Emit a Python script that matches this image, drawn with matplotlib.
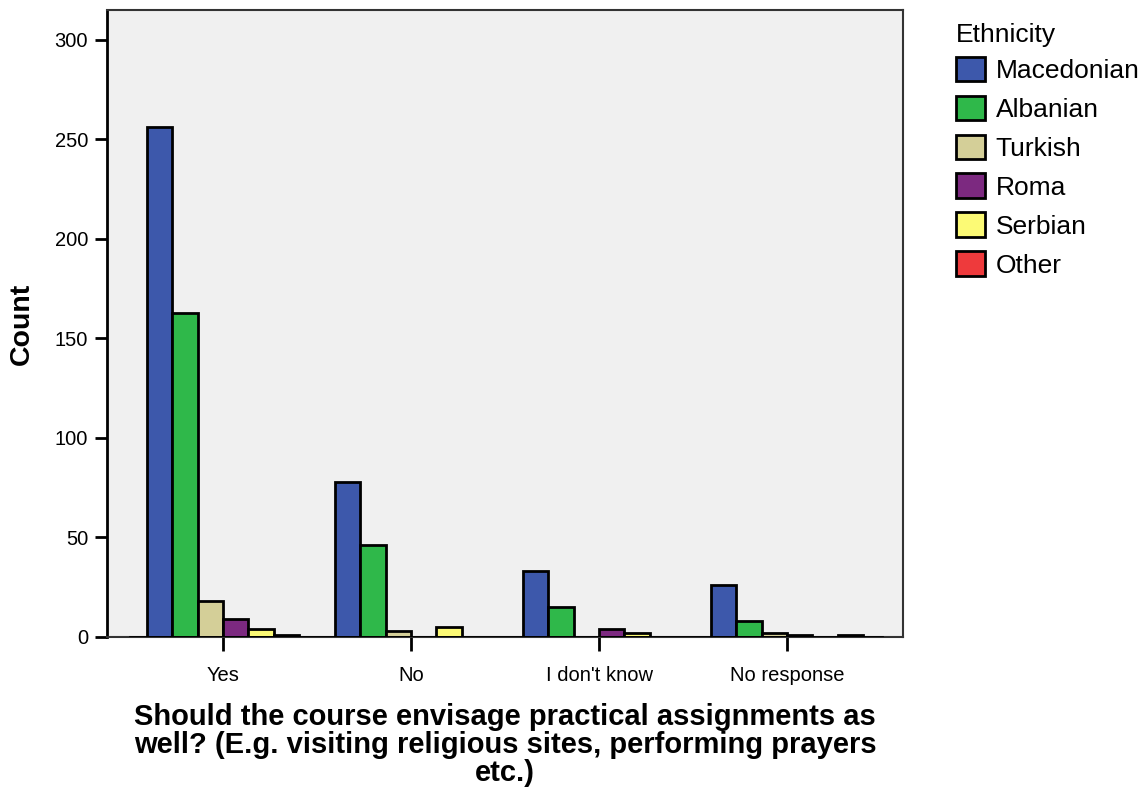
import matplotlib
matplotlib.use("Agg")
import matplotlib.pyplot as plt
import numpy as np
from matplotlib.patches import Patch

plt.rcParams['font.family'] = ['Liberation Sans', 'DejaVu Sans']

categories = ["Yes", "No", "I don't know", "No response"]
series_names = ["Macedonian", "Albanian", "Turkish", "Roma", "Serbian", "Other"]
macedonian = [256, 78, 33, 26]
albanian = [163, 46, 15, 8]
turkish = [18, 3, 0, 2]
roma = [9, 0, 4, 1]
serbian = [4, 5, 2, 0]
other = [1, 0, 0, 1]
colors = ["#3d58ab", "#2fb84a", "#d4cf98", "#7c2980", "#fcfa75", "#ee3a3c"]

series = [macedonian, albanian, turkish, roma, serbian, other]

fig = plt.figure(figsize=(11.47, 7.9), dpi=100)
ax = fig.add_axes([107/1147, 153/790, (903-107)/1147, (637-10)/790])
ax.set_facecolor("#f0f0f0")

x = np.arange(len(categories))
w = 0.1346
for i, (vals, c) in enumerate(zip(series, colors)):
    offs = (i - 2.5) * w
    for xi, v in zip(x, vals):
        if v > 0:
            ax.bar(xi + offs, v, width=w, color=c, edgecolor="black", linewidth=2, zorder=3)

ax.axhline(0, color="black", linewidth=2, zorder=4, xmin=0.029, xmax=0.974)
ax.set_xlim(-0.617, 3.617)
ax.set_ylim(0, 315)
ax.set_yticks([0, 50, 100, 150, 200, 250, 300])
ax.set_xticks(x)
ax.set_xticklabels(categories, fontsize=14.5)
ax.tick_params(axis='y', labelsize=14.5, length=8.6, width=2, direction='out', pad=5)
ax.tick_params(axis='x', length=10, width=2, direction='out', pad=11)
for s in ax.spines.values():
    s.set_linewidth(1.5)
    s.set_color("#333333")
ax.spines['left'].set_color("black")
ax.spines['left'].set_linewidth(2)

ax.set_ylabel("Count", fontsize=20.5, fontweight="bold", labelpad=14)
ax.set_xlabel("Should the course envisage practical assignments as\nwell? (E.g. visiting religious sites, performing prayers\netc.)",
              fontsize=21, fontweight="bold", labelpad=13, linespacing=1.0)

handles = [Patch(facecolor=c, edgecolor="black", linewidth=2, label=n) for n, c in zip(series_names, colors)]
leg = fig.legend(handles=handles, title="Ethnicity", loc="upper left",
                 bbox_to_anchor=(956/1147, 1 - 23/790), frameon=False,
                 fontsize=19, title_fontsize=19, handlelength=1.1, handleheight=1.05,
                 labelspacing=0.48, handletextpad=0.4, borderaxespad=0, borderpad=0)
leg._legend_box.align = "left"
leg._legend_box.sep = 7

fig.savefig("out.png", dpi=100)
